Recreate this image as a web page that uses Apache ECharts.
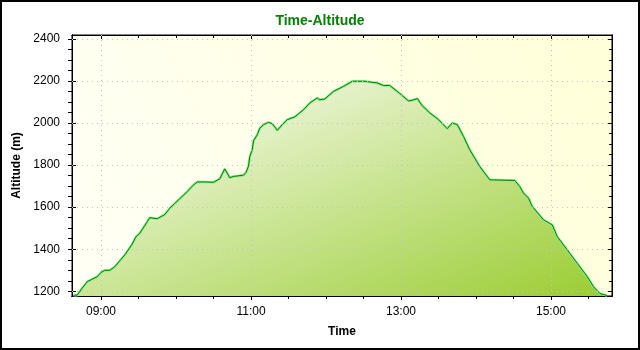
<!DOCTYPE html>
<html>
<head>
<meta charset="utf-8">
<script src="https://cdn.jsdelivr.net/npm/echarts@6/dist/echarts.min.js"></script>
<style>
  html, body { margin: 0; padding: 0; background: #fff; }
  #chart { width: 640px; height: 350px; }
</style>
</head>
<body>
<div id="chart"></div>
<script>
// Track samples: clock time and altitude in metres
const times = ['08:38','08:41','08:45','08:49','08:53','08:57','09:00','09:03','09:07','09:11',
  '09:15','09:19','09:25','09:28','09:31','09:37','09:39','09:45','09:48','09:51',
  '09:55','09:59','10:03','10:09','10:13','10:17','10:23','10:30','10:35','10:39',
  '10:43','10:46','10:54','10:56','10:58','10:59','11:01','11:02','11:05','11:07',
  '11:10','11:14','11:17','11:21','11:25','11:29','11:35','11:42','11:47','11:53',
  '11:55','11:59','12:06','12:14','12:21','12:31','12:41','12:46','12:51','12:57',
  '12:59','13:06','13:09','13:13','13:17','13:23','13:30','13:37','13:41','13:45',
  '13:50','13:55','14:03','14:11','14:31','14:35','14:38','14:42','14:45','14:54',
  '15:01','15:05','15:13','15:21','15:29','15:34','15:39','15:45'];
const altitudes = [1182,1182,1216,1246,1258,1270,1290,1300,1300,1317,
  1345,1373,1425,1460,1476,1531,1550,1545,1555,1565,
  1595,1618,1640,1674,1700,1720,1720,1718,1735,1782,
  1740,1746,1752,1765,1795,1840,1873,1915,1944,1975,
  1992,2003,1997,1965,1992,2016,2029,2063,2095,2119,
  2110,2114,2150,2174,2198,2198,2190,2178,2178,2150,
  2140,2105,2108,2116,2082,2048,2016,1973,2000,1992,
  1936,1873,1793,1730,1727,1698,1667,1643,1603,1540,
  1516,1460,1397,1333,1270,1222,1190,1180];

// Axis labels
const timeTicks = ['09:00','11:00','13:00','15:00'];
const altitudeTicks = [1200,1400,1600,1800,2000,2200,2400];

function toMinutes(s) {
  const [h, m] = s.split(':').map(Number);
  return h * 60 + m;
}
function toClock(v) {
  const h = Math.floor(v / 60), m = Math.round(v - h * 60);
  return String(h).padStart(2, '0') + ':' + String(m).padStart(2, '0');
}

const X_MIN = 516.8, X_MAX = 948.8;   // 08:36.8 .. 15:48.8
const Y_MIN = 1178, Y_MAX = 2418;

const majorX = timeTicks.map(toMinutes);
const halfHourX = [];
for (let v = toMinutes('09:00'); v <= toMinutes('15:30'); v += 30) halfHourX.push(v);
const minorY = [];
for (let v = altitudeTicks[0]; v <= altitudeTicks[altitudeTicks.length - 1]; v += 50) minorY.push(v);

const points = times.map((t, i) => [toMinutes(t), altitudes[i]]);

const FONT = 'Liberation Sans, Arial, sans-serif';
const tickLine = { color: '#000', width: 1 };
const frameLine = { show: true, lineStyle: { color: '#000', width: 1 } };

function xAxisBase(extra) {
  return Object.assign({
    type: 'value', min: X_MIN, max: X_MAX, gridIndex: 0,
    axisLine: frameLine, axisLabel: { show: false },
    axisTick: { show: false }, splitLine: { show: false }
  }, extra);
}
function yAxisBase(extra) {
  return Object.assign({
    type: 'value', min: Y_MIN, max: Y_MAX, gridIndex: 0,
    axisLine: frameLine, axisLabel: { show: false },
    axisTick: { show: false }, splitLine: { show: false }
  }, extra);
}

// Profile fill: white at the upper left running to yellow-green at the lower right,
// with bands parallel to the fill box's rising diagonal (box about 534 x 215 px).
const boxW = 534, boxH = 215;
const gx2 = 2 * boxH * boxH / (boxH * boxH + boxW * boxW);
const gy2 = 2 * boxW * boxW / (boxH * boxH + boxW * boxW);

const chart = echarts.init(document.getElementById('chart'), null, { renderer: 'canvas' });

chart.setOption({
  animation: false,
  backgroundColor: '#fff',
  title: {
    text: 'Time-Altitude',
    left: 'center',
    top: 9,
    textStyle: { color: '#008000', fontSize: 14, fontWeight: 'bold', fontFamily: FONT }
  },
  grid: {
    left: 72, right: 28, top: 35, bottom: 54,
    show: true,
    borderColor: '#000',
    borderWidth: 1,
    backgroundColor: {
      type: 'linear', x: 0, y: 1, x2: 1, y2: 0,
      colorStops: [
        { offset: 0, color: '#fffff6' },
        { offset: 1, color: '#ffffd8' }
      ]
    }
  },
  xAxis: [
    xAxisBase({
      position: 'bottom',
      name: 'Time',
      nameLocation: 'middle',
      nameGap: 30,
      nameTextStyle: { color: '#000', fontSize: 12, fontWeight: 'bold', fontFamily: FONT },
      axisTick: { show: true, customValues: majorX, length: 4, inside: false, lineStyle: tickLine },
      axisLabel: {
        show: true, customValues: majorX, margin: 10,
        color: '#000', fontSize: 12, fontFamily: FONT,
        formatter: v => toClock(v)
      }
    }),
    xAxisBase({
      position: 'bottom',
      axisTick: { show: true, customValues: majorX, length: 4, inside: true, lineStyle: tickLine }
    }),
    xAxisBase({
      position: 'bottom',
      axisTick: { show: true, customValues: halfHourX, length: 3, inside: false, lineStyle: tickLine }
    }),
    xAxisBase({
      position: 'top',
      axisTick: { show: true, customValues: halfHourX, length: 3, inside: true, lineStyle: tickLine }
    }),
    xAxisBase({
      position: 'top',
      axisTick: { show: true, customValues: majorX, length: 4, inside: true, lineStyle: tickLine }
    })
  ],
  yAxis: [
    yAxisBase({
      position: 'left',
      name: 'Altitude (m)',
      nameLocation: 'middle',
      nameGap: 45,
      nameTextStyle: { color: '#000', fontSize: 12, fontWeight: 'bold', fontFamily: FONT },
      axisTick: { show: true, customValues: altitudeTicks, length: 4, inside: false, lineStyle: tickLine },
      axisLabel: {
        show: true, customValues: altitudeTicks, margin: 12,
        color: '#000', fontSize: 12, fontFamily: FONT,
        formatter: v => String(v)
      }
    }),
    yAxisBase({
      position: 'left',
      axisTick: { show: true, customValues: altitudeTicks, length: 4, inside: true, lineStyle: tickLine }
    }),
    yAxisBase({
      position: 'left',
      axisTick: { show: true, customValues: minorY, length: 4, inside: false, lineStyle: tickLine }
    }),
    yAxisBase({
      position: 'right',
      axisTick: { show: true, customValues: altitudeTicks, length: 4, inside: true, lineStyle: tickLine }
    }),
    yAxisBase({
      position: 'right',
      axisTick: { show: true, customValues: minorY, length: 3, inside: true, lineStyle: tickLine }
    })
  ],
  series: [
    {
      // dotted grid lines at the labelled ticks, kept under the profile
      type: 'line',
      xAxisIndex: 0, yAxisIndex: 0,
      data: [],
      z: 1,
      silent: true,
      markLine: {
        silent: true,
        symbol: 'none',
        label: { show: false },
        animation: false,
        lineStyle: { color: '#c4c4c4', type: [1, 4], width: 1 },
        data: majorX.map(v => ({ xAxis: v })).concat(altitudeTicks.map(v => ({ yAxis: v })))
      }
    },
    {
      type: 'line',
      xAxisIndex: 0, yAxisIndex: 0,
      data: points,
      z: 2,
      symbol: 'none',
      silent: true,
      lineStyle: { color: '#8fe88f', width: 2.5 },
      areaStyle: {
        origin: 'start',
        opacity: 1,
        color: {
          type: 'linear', x: 0, y: 0, x2: gx2, y2: gy2,
          colorStops: [
            { offset: 0, color: '#ffffff' },
            { offset: 1, color: '#9acd32' }
          ]
        }
      }
    },
    {
      type: 'line',
      xAxisIndex: 0, yAxisIndex: 0,
      data: points,
      z: 3,
      symbol: 'none',
      silent: true,
      lineStyle: { color: '#008000', width: 1 }
    }
  ],
  graphic: [
    {
      type: 'rect',
      shape: { x: 1, y: 1, width: 638, height: 348 },
      style: { fill: 'none', stroke: '#000', lineWidth: 2 },
      silent: true,
      z: 100
    }
  ]
});
</script>
</body>
</html>
